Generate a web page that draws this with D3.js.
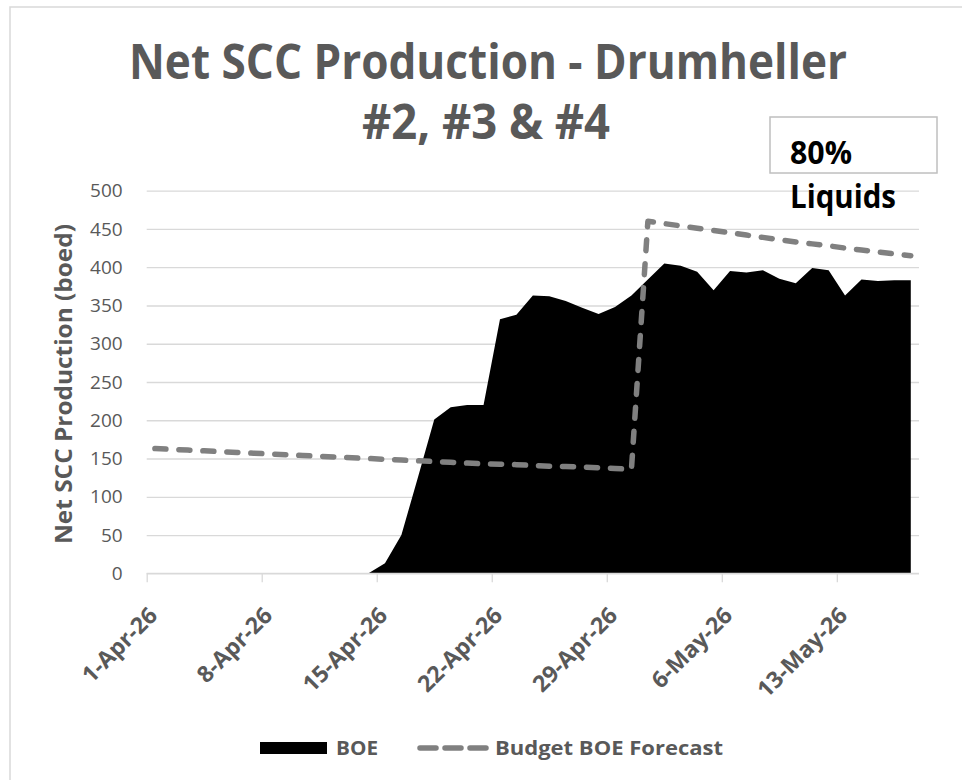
<!DOCTYPE html>
<html>
<head>
<meta charset="utf-8">
<script src="https://cdn.jsdelivr.net/npm/d3@7"></script>
<style>
  html, body { margin: 0; padding: 0; background: #fff; }
  svg { display: block; font-family: "Open Sans", sans-serif; }
</style>
</head>
<body>
<div id="chart"></div>
<script>
// categories: one point per day, 1-Apr-26 .. 17-May-26
const startDay = new Date(2026, 3, 1);
const endDay = new Date(2026, 4, 18);
const days = d3.timeDay.range(startDay, endDay);

// BOE actuals (boed)
const boe = [0, 0, 0, 0, 0, 0, 0, 0, 0, 0, 0, 0, 0, 0,
  13, 50, 125, 201, 217, 220, 220, 332, 338, 363, 362, 356, 347, 339, 348, 363,
  384, 405, 402, 394, 370, 395, 393, 396, 385, 379, 399, 396, 363, 384, 382, 383, 383];

// budget forecast (boed)
const budget = [163, 162, 161, 160, 159, 158, 157, 156, 155, 154, 153, 152, 151, 150,
  149, 148, 147, 146, 145, 144, 143, 142.5, 142, 141, 140, 139.5, 139, 138, 137, 136,
  460, 457, 454, 451, 448, 445, 442, 439, 436, 433, 430.5, 428, 425, 422.5, 420, 417.5, 415];

const yTicks = [0, 50, 100, 150, 200, 250, 300, 350, 400, 450, 500];
const xTickDates = [new Date(2026, 3, 1), new Date(2026, 3, 8), new Date(2026, 3, 15),
  new Date(2026, 3, 22), new Date(2026, 3, 29), new Date(2026, 4, 6), new Date(2026, 4, 13)];

const titleLines = ['Net SCC Production - Drumheller', '#2, #3 & #4'];
const yTitle = 'Net SCC Production (boed)';
const noteLines = ['80%', 'Liquids'];
const legendNames = ['BOE', 'Budget BOE Forecast'];

const textGrey = '#595959';
const gridGrey = '#d9d9d9';
const lineGrey = '#808080';

const W = 962, H = 780;
const plot = {left: 146.7, right: 919, top: 190.7, bottom: 573.3};

const svg = d3.select('#chart').append('svg')
  .attr('width', W)
  .attr('height', H);

// chart frame (cut off at right and bottom)
svg.append('path')
  .attr('d', `M10,${H} V7 H${W}`)
  .attr('fill', 'none')
  .attr('stroke', gridGrey)
  .attr('stroke-width', 1.5);

// scales
const x = d3.scaleTime()
  .domain([startDay, endDay])
  .range([plot.left, plot.right]);
const y = d3.scaleLinear()
  .domain([0, 500])
  .range([plot.bottom, plot.top]);

// points sit between the day ticks
const xMid = d => x(d3.timeHour.offset(d, 12));

// y axis + gridlines
const yAxis = svg.append('g')
  .attr('transform', `translate(${plot.left},0)`)
  .call(d3.axisLeft(y).tickValues(yTicks).tickSize(-(plot.right - plot.left)).tickPadding(24));
yAxis.select('.domain').remove();
yAxis.selectAll('line')
  .attr('stroke', gridGrey)
  .attr('stroke-width', 1.3);
yAxis.selectAll('text')
  .attr('fill', textGrey)
  .style('font-size', '19px')
  .style('font-family', '"Open Sans", sans-serif');

// BOE area
const area = d3.area()
  .x((d, i) => xMid(days[i]))
  .y0(y(0))
  .y1(d => y(d));
svg.append('path')
  .datum(boe)
  .attr('d', area)
  .attr('fill', '#000');

// budget forecast line
const line = d3.line()
  .x((d, i) => xMid(days[i]))
  .y(d => y(d));
svg.append('path')
  .datum(budget)
  .attr('d', line)
  .attr('fill', 'none')
  .attr('stroke', lineGrey)
  .attr('stroke-width', 5.5)
  .attr('stroke-linecap', 'round')
  .attr('stroke-linejoin', 'round')
  .attr('stroke-dasharray', '11,13');

// x axis
const xAxis = svg.append('g')
  .attr('transform', `translate(0,${plot.bottom})`)
  .call(d3.axisBottom(x).tickValues(xTickDates).tickSize(9).tickFormat(() => ''));
xAxis.select('.domain')
  .attr('stroke', gridGrey)
  .attr('stroke-width', 1.3)
  .attr('d', `M${plot.left},0H${plot.right}`);
xAxis.selectAll('line')
  .attr('stroke', gridGrey)
  .attr('stroke-width', 1.3);

const fmt = d3.timeFormat('%-d-%b-%y');
svg.append('g')
  .selectAll('text')
  .data(xTickDates)
  .enter().append('text')
    .attr('transform', d => `translate(${x(d) + 12},617) rotate(-45)`)
    .attr('text-anchor', 'end')
    .attr('fill', textGrey)
    .style('font-size', '23px')
    .style('font-weight', 700)
    .text(d => fmt(d));

// y axis title
svg.append('text')
  .attr('transform', `translate(72,384) rotate(-90)`)
  .attr('text-anchor', 'middle')
  .attr('fill', textGrey)
  .attr('textLength', 320)
  .attr('lengthAdjust', 'spacingAndGlyphs')
  .style('font-size', '24px')
  .style('font-weight', 700)
  .text(yTitle);

// title
const titleBase = [79, 139];
const titleWidth = [718, 248];
svg.append('g')
  .selectAll('text')
  .data(titleLines)
  .enter().append('text')
    .attr('x', (d, i) => i === 0 ? 488 : 486)
    .attr('y', (d, i) => titleBase[i])
    .attr('text-anchor', 'middle')
    .attr('fill', textGrey)
    .attr('textLength', (d, i) => titleWidth[i])
    .attr('lengthAdjust', 'spacingAndGlyphs')
    .style('font-size', '48px')
    .style('font-weight', 700)
    .text(d => d);

// note box
svg.append('rect')
  .attr('x', 770)
  .attr('y', 117)
  .attr('width', 167)
  .attr('height', 56)
  .attr('fill', '#fff')
  .attr('stroke', '#bfbfbf')
  .attr('stroke-width', 1.5);
const noteBase = [164, 208];
const noteWidth = [62, 106];
svg.append('g')
  .selectAll('text')
  .data(noteLines)
  .enter().append('text')
    .attr('x', 790)
    .attr('y', (d, i) => noteBase[i])
    .attr('fill', '#000')
    .attr('textLength', (d, i) => noteWidth[i])
    .attr('lengthAdjust', 'spacingAndGlyphs')
    .style('font-size', '33px')
    .style('font-weight', 700)
    .text(d => d);

// legend
const legend = svg.append('g');
legend.append('rect')
  .attr('x', 260)
  .attr('y', 742)
  .attr('width', 67)
  .attr('height', 12)
  .attr('fill', '#000');
legend.append('text')
  .attr('x', 336)
  .attr('y', 755)
  .attr('fill', textGrey)
  .attr('textLength', 42)
  .attr('lengthAdjust', 'spacingAndGlyphs')
  .style('font-size', '20px')
  .style('font-weight', 700)
  .text(legendNames[0]);
legend.append('line')
  .attr('x1', 420)
  .attr('x2', 488)
  .attr('y1', 748)
  .attr('y2', 748)
  .attr('stroke', lineGrey)
  .attr('stroke-width', 5.5)
  .attr('stroke-linecap', 'round')
  .attr('stroke-dasharray', '16,9');
legend.append('text')
  .attr('x', 495)
  .attr('y', 755)
  .attr('fill', textGrey)
  .attr('textLength', 228)
  .attr('lengthAdjust', 'spacingAndGlyphs')
  .style('font-size', '20px')
  .style('font-weight', 700)
  .text(legendNames[1]);
</script>
</body>
</html>
